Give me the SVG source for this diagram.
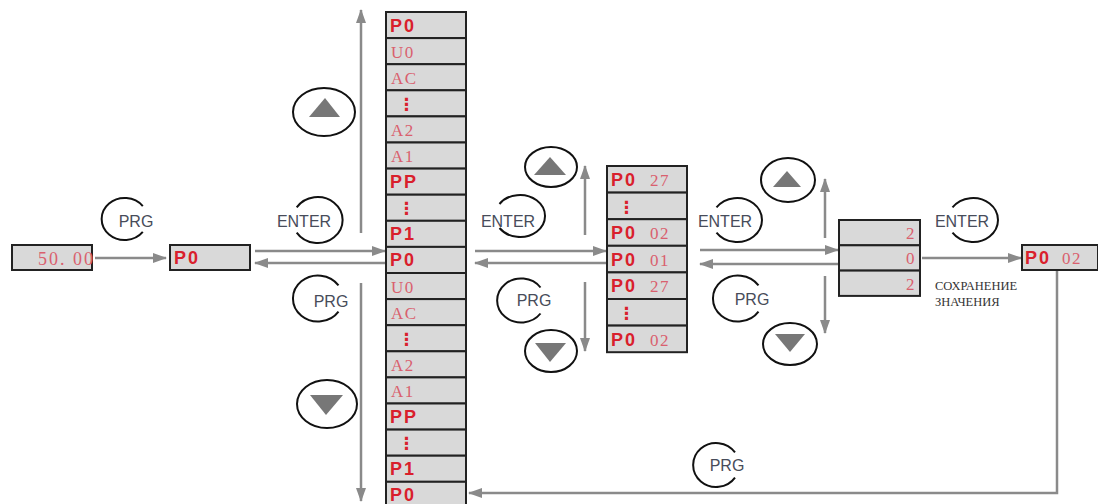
<svg xmlns="http://www.w3.org/2000/svg" width="1098" height="504" viewBox="0 0 1098 504">
<defs>
<marker id="ah" viewBox="0 0 14 10" refX="13" refY="5" markerWidth="14" markerHeight="10" markerUnits="userSpaceOnUse" orient="auto">
<path d="M0,0 L14,5 L0,10 Z" fill="#8a8a8a"/>
</marker>
<style>
.cell{fill:#d9d9d9;stroke:#222;stroke-width:2}
.b{font-family:"Liberation Sans",Arial,sans-serif;font-weight:bold;font-size:18px;letter-spacing:2px;fill:#d9202c}
.s{font-family:"Liberation Serif","Times New Roman",serif;font-size:17px;letter-spacing:1.5px;fill:#d9606e}
.d{font-family:"DejaVu Sans",sans-serif;font-weight:bold;font-size:17px;fill:#d9202c}
.k{font-family:"Liberation Sans",Arial,sans-serif;font-size:16px;fill:#474c5a}
.ring{fill:none;stroke:#111;stroke-width:2}
.tri{fill:#777}
.c{fill:none;stroke:#8a8a8a;stroke-width:2.5;marker-end:url(#ah)}
.note{font-family:"Liberation Serif","Times New Roman",serif;font-size:12.5px;fill:#333}
</style>
</defs>
<rect width="1098" height="504" fill="#fff"/>

<g id="connectors">
<line class="c" x1="95" y1="258" x2="166" y2="258"/>
<line class="c" x1="255" y1="251" x2="385" y2="251"/>
<line class="c" x1="385" y1="263" x2="255" y2="263"/>
<line class="c" x1="361" y1="233" x2="361" y2="10"/>
<line class="c" x1="361" y1="283" x2="361" y2="501"/>
<line class="c" x1="475" y1="251" x2="606" y2="251"/>
<line class="c" x1="606" y1="263" x2="475" y2="263"/>
<line class="c" x1="585" y1="235" x2="585" y2="166"/>
<line class="c" x1="585" y1="282" x2="585" y2="351"/>
<line class="c" x1="700" y1="250" x2="838" y2="250"/>
<line class="c" x1="838" y1="264" x2="700" y2="264"/>
<line class="c" x1="825" y1="238" x2="825" y2="179"/>
<line class="c" x1="825" y1="276" x2="825" y2="333"/>
<line class="c" x1="922" y1="258" x2="1021" y2="258"/>
<path class="c" d="M1057,270 V493 H469"/>
</g>

<g id="start-value">
<rect class="cell" x="12" y="245" width="80" height="25"/>
<text class="s" x="38" y="265" xml:space="preserve" style="font-size:18px;letter-spacing:2px">50. 00</text>
</g>

<g id="p0-box">
<rect class="cell" x="170" y="245" width="80" height="25"/>
<text class="b" x="174" y="264">P0</text>
</g>

<g id="group-list">
<rect class="cell" x="386" y="12.0" width="80" height="26.1"/><text class="b" x="390" y="31.5">P0</text>
<rect class="cell" x="386" y="38.1" width="80" height="26.1"/><text class="s" x="391" y="57.6">U0</text>
<rect class="cell" x="386" y="64.2" width="80" height="26.1"/><text class="s" x="391" y="83.7">AC</text>
<rect class="cell" x="386" y="90.3" width="80" height="26.1"/><text class="d" x="398" y="110">⋮</text>
<rect class="cell" x="386" y="116.4" width="80" height="26.1"/><text class="s" x="391" y="135.9">A2</text>
<rect class="cell" x="386" y="142.5" width="80" height="26.1"/><text class="s" x="391" y="162">A1</text>
<rect class="cell" x="386" y="168.6" width="80" height="26.1"/><text class="b" x="390" y="188.1">PP</text>
<rect class="cell" x="386" y="194.7" width="80" height="26.1"/><text class="d" x="398" y="214.4">⋮</text>
<rect class="cell" x="386" y="220.8" width="80" height="26.1"/><text class="b" x="390" y="240.3">P1</text>
<rect class="cell" x="386" y="246.9" width="80" height="26.1"/><text class="b" x="390" y="266.4">P0</text>
<rect class="cell" x="386" y="273.0" width="80" height="26.1"/><text class="s" x="391" y="292.5">U0</text>
<rect class="cell" x="386" y="299.1" width="80" height="26.1"/><text class="s" x="391" y="318.6">AC</text>
<rect class="cell" x="386" y="325.2" width="80" height="26.1"/><text class="d" x="398" y="345">⋮</text>
<rect class="cell" x="386" y="351.3" width="80" height="26.1"/><text class="s" x="391" y="370.8">A2</text>
<rect class="cell" x="386" y="377.4" width="80" height="26.1"/><text class="s" x="391" y="396.9">A1</text>
<rect class="cell" x="386" y="403.5" width="80" height="26.1"/><text class="b" x="390" y="423">PP</text>
<rect class="cell" x="386" y="429.6" width="80" height="26.1"/><text class="d" x="398" y="449.3">⋮</text>
<rect class="cell" x="386" y="455.7" width="80" height="26.1"/><text class="b" x="390" y="475.2">P1</text>
<rect class="cell" x="386" y="481.8" width="80" height="26.1"/><text class="b" x="390" y="501.3">P0</text>
</g>

<g id="param-list">
<rect class="cell" x="607" y="166.0" width="80" height="26.6"/><text x="611" y="186"><tspan class="b">P0</tspan><tspan class="s" x="650">27</tspan></text>
<rect class="cell" x="607" y="192.6" width="80" height="26.6"/><text class="d" x="618" y="212.5">⋮</text>
<rect class="cell" x="607" y="219.2" width="80" height="26.6"/><text x="611" y="239.2"><tspan class="b">P0</tspan><tspan class="s" x="650">02</tspan></text>
<rect class="cell" x="607" y="245.8" width="80" height="26.6"/><text x="611" y="265.8"><tspan class="b">P0</tspan><tspan class="s" x="650">01</tspan></text>
<rect class="cell" x="607" y="272.4" width="80" height="26.6"/><text x="611" y="292.4"><tspan class="b">P0</tspan><tspan class="s" x="650">27</tspan></text>
<rect class="cell" x="607" y="299.0" width="80" height="26.6"/><text class="d" x="618" y="318.9">⋮</text>
<rect class="cell" x="607" y="325.6" width="80" height="26.6"/><text x="611" y="345.6"><tspan class="b">P0</tspan><tspan class="s" x="650">02</tspan></text>
</g>

<g id="value-edit">
<rect class="cell" x="839" y="220" width="81" height="25.3"/><text class="s" x="916" y="239" text-anchor="end">2</text>
<rect class="cell" x="839" y="245.3" width="81" height="25.3"/><text class="s" x="916" y="264.3" text-anchor="end">0</text>
<rect class="cell" x="839" y="270.6" width="81" height="25.3"/><text class="s" x="916" y="289.6" text-anchor="end">2</text>
</g>

<g id="save-note">
<text class="note" x="935" y="290">СОХРАНЕНИЕ</text>
<text class="note" x="935" y="306">ЗНАЧЕНИЯ</text>
</g>

<g id="result-box">
<rect class="cell" x="1022" y="245" width="76" height="25"/>
<text x="1025" y="264"><tspan class="b">P0</tspan><tspan class="s" x="1062">02</tspan></text>
</g>

<g id="btn-prg-1">
<path class="ring" d="M142.8,206.1 A23,21 0 1 0 142.8,231.9"/>
<text class="k" x="136" y="227" text-anchor="middle">PRG</text>
</g>
<g id="btn-up-1">
<ellipse class="ring" cx="324" cy="112" rx="31" ry="24"/>
<path class="tri" d="M325,98 L340,117 L309,117 Z"/>
</g>
<g id="btn-enter-1">
<path class="ring" d="M296.7,232.6 A25,23 0 1 0 296.7,207.4"/>
<text class="k" x="304" y="227" text-anchor="middle">ENTER</text>
</g>
<g id="btn-prg-2">
<path class="ring" d="M338.5,285.4 A25,23 0 1 0 338.5,311.6"/>
<text class="k" x="331" y="307" text-anchor="middle">PRG</text>
</g>
<g id="btn-down-1">
<ellipse class="ring" cx="327" cy="404" rx="30" ry="24"/>
<path class="tri" d="M310,395 L343,395 L326,415 Z"/>
</g>

<g id="btn-up-2">
<ellipse class="ring" cx="551" cy="167" rx="26" ry="20"/>
<path class="tri" d="M550,157 L566,175 L534,175 Z"/>
</g>
<g id="btn-enter-2">
<path class="ring" d="M499.5,228 A25,21 0 1 0 499.5,204"/>
<text class="k" x="508" y="227" text-anchor="middle">ENTER</text>
</g>
<g id="btn-prg-3">
<path class="ring" d="M540.5,287.5 A24,22 0 1 0 540.5,313.5"/>
<text class="k" x="534" y="306" text-anchor="middle">PRG</text>
</g>
<g id="btn-down-2">
<ellipse class="ring" cx="551" cy="351" rx="26" ry="21"/>
<path class="tri" d="M535,343 L566,343 L550,362 Z"/>
</g>

<g id="btn-up-3">
<ellipse class="ring" cx="788" cy="180" rx="27" ry="22"/>
<path class="tri" d="M787,171 L801,187 L773,187 Z"/>
</g>
<g id="btn-enter-3">
<path class="ring" d="M716.5,232.6 A25,22 0 1 0 716.5,207.4"/>
<text class="k" x="725" y="227" text-anchor="middle">ENTER</text>
</g>
<g id="btn-prg-4">
<path class="ring" d="M758.5,285.4 A25,23 0 1 0 758.5,311.6"/>
<text class="k" x="752" y="305" text-anchor="middle">PRG</text>
</g>
<g id="btn-down-3">
<ellipse class="ring" cx="790" cy="344" rx="27" ry="21"/>
<path class="tri" d="M775,334 L805,334 L790,352 Z"/>
</g>

<g id="btn-enter-4">
<path class="ring" d="M952.5,232.6 A25,22 0 1 0 952.5,207.4"/>
<text class="k" x="962" y="227" text-anchor="middle">ENTER</text>
</g>

<g id="btn-prg-5">
<path class="ring" d="M735,452.4 A23,22 0 1 0 735,477.6"/>
<text class="k" x="727" y="471" text-anchor="middle">PRG</text>
</g>
</svg>
